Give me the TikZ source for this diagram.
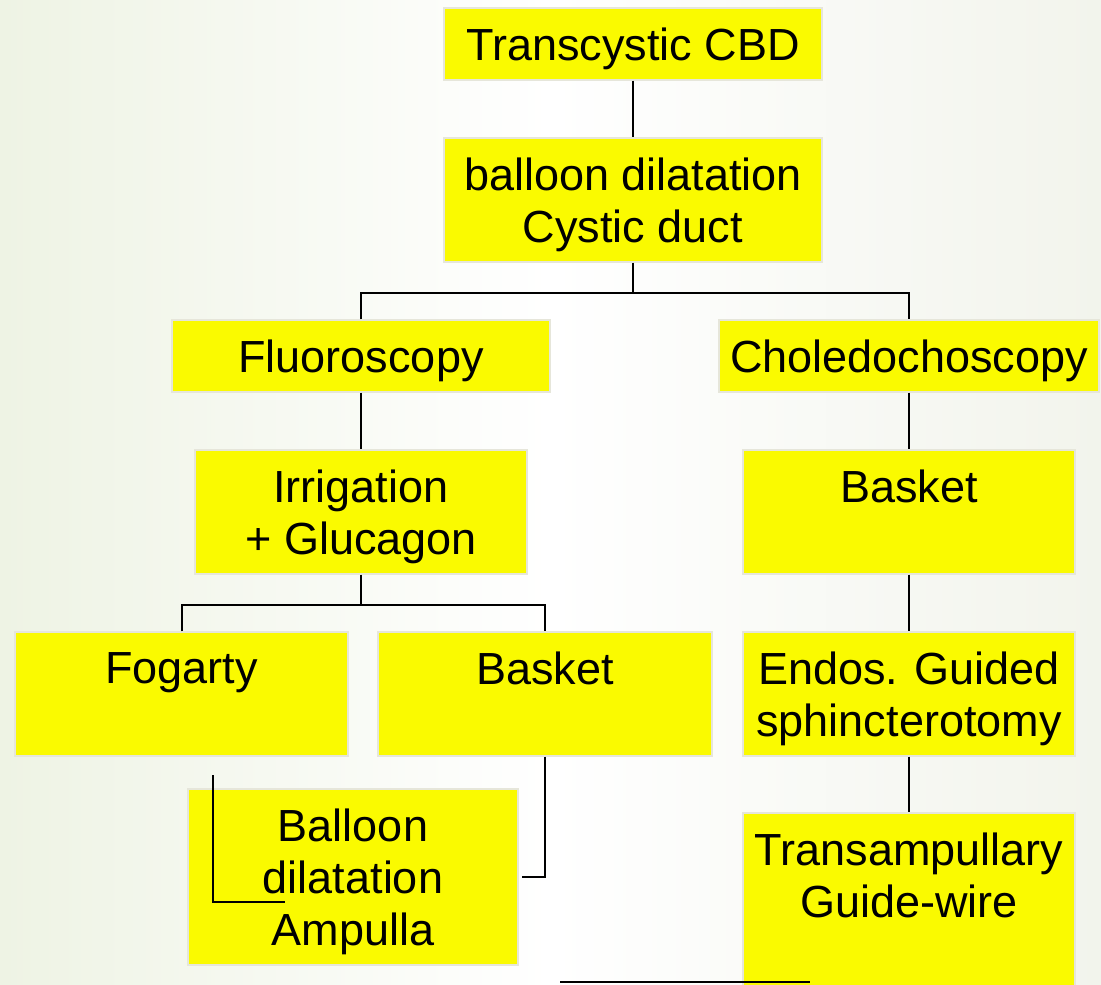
\documentclass[tikz,border=0pt]{standalone}
\usepackage{fontspec}
\setmainfont{Liberation Sans}
\usepackage{tikz}

\definecolor{boxfill}{RGB}{250,250,0}
\definecolor{boxedge}{RGB}{230,230,218}
\definecolor{bgleft}{RGB}{238,243,228}
\definecolor{bgright}{RGB}{242,244,236}

\tikzset{
    box/.style={rectangle, draw=boxedge, fill=boxfill, line width=0.6pt, inner sep=0pt,
        align=center, text depth=0pt, font=\fontsize{22.5}{26}\selectfont},
    link/.style={line width=1pt, black}
}

\begin{document}
\begin{tikzpicture}[x=0.5pt, y=-0.5pt]
    \useasboundingbox (0,0) rectangle (1101,984);
    \fill[left color=bgleft, right color=bgright, middle color=white] (0,0) rectangle (1101,984);

    \node[box, minimum width=189pt, minimum height=36pt] (top) at (633,44) {Transcystic CBD};
    \node[box, minimum width=189pt, minimum height=62pt] (cystic) at (633,200) {balloon dilatation\\Cystic duct};
    \node[box, minimum width=189pt, minimum height=36pt] (fluoro) at (361,356) {Fluoroscopy};
    \node[box, minimum width=190pt, minimum height=36pt] (chole) at (909,356) {Choledochoscopy};
    \node[box, minimum width=166pt, minimum height=62pt] (irrig) at (361,512) {Irrigation\\+ Glucagon};
    \node[box, minimum width=166pt, minimum height=62pt] (basketR) at (909,512) {Basket\\~};
    \node[box, minimum width=166.5pt, minimum height=62pt] (fogarty) at (181.5,694) {Fogarty\\~};
    \node[box, minimum width=167pt, minimum height=62pt] (basketM) at (545,694) {Basket\\~};
    \node[box, minimum width=166pt, minimum height=62pt] (endos) at (909,694) {Endos. Guided\\sphincterotomy};
    \node[box, minimum width=165pt, minimum height=88pt] (balloonA) at (353,877) {Balloon\\dilatation\\Ampulla};
    \node[box, minimum width=166pt, minimum height=88pt] (transamp) at (909,901) {Transampullary\\Guide-wire\\~};

    \coordinate (bus1) at (633,293);
    \coordinate (bus2) at (361,605);
    \coordinate (fogA) at (213,775);
    \coordinate (fogB) at (285,902);
    \coordinate (loose1) at (560,982);
    \coordinate (loose2) at (810,982);

    \draw[link] (top) -- (cystic);
    \draw[link] (cystic.south) -- (bus1);
    \draw[link] (fluoro.north) |- (bus1) -| (chole.north);
    \draw[link] (fluoro) -- (irrig);
    \draw[link] (chole) -- (basketR);
    \draw[link] (irrig.south) -- (bus2);
    \draw[link] (fogarty.north) |- (bus2) -| (basketM.north);
    \draw[link] (basketR) -- (endos);
    \draw[link] (endos) -- (transamp);
    \draw[link] (fogA) |- (fogB);
    \draw[link] (basketM.south) |- ([xshift=1.5pt]balloonA.east);
    \draw[link] (loose1) -- (loose2);
\end{tikzpicture}
\end{document}
